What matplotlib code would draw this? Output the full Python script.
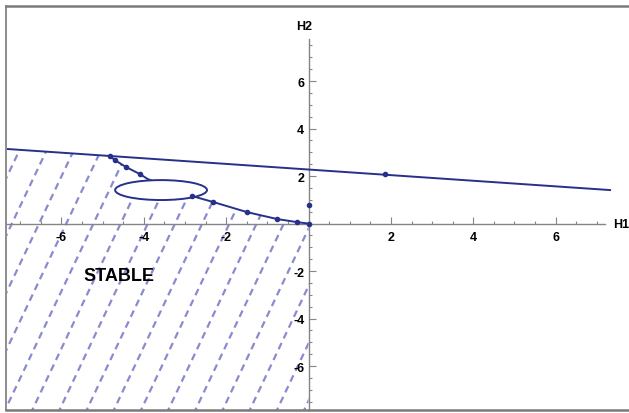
import numpy as np
import matplotlib
matplotlib.use("Agg")
import matplotlib.pyplot as plt
from matplotlib.lines import Line2D
from matplotlib.patches import Ellipse, Polygon

plt.rcParams['font.family'] = ['Liberation Sans', 'DejaVu Sans']
plt.rcParams['lines.scale_dashes'] = False
plt.rcParams['axes.unicode_minus'] = False

# straight boundary line (end points)
line_x = [-7.32, 7.32]
line_y = [3.14, 1.41]

# curved boundary of the stable region
curve_x = [-4.82, -4.70, -4.43, -4.09, -3.90, -2.83, -2.32, -1.49, -0.76, -0.28, 0.0]
curve_y = [2.84, 2.67, 2.38, 2.08, 1.87, 1.16, 0.91, 0.48, 0.19, 0.06, 0.0]

# computed points shown as dots
dots_x = [-4.82, -4.70, -4.43, -4.09, -2.83, -2.32, -1.49, -0.76, -0.28, 0.0, 0.0, 1.86]
dots_y = [2.84, 2.67, 2.38, 2.08, 1.16, 0.91, 0.48, 0.19, 0.06, 0.0, 0.78, 2.08]

# ellipse (center, width, height)
ell_center = (-3.58, 1.41)
ell_w, ell_h = 2.23, 0.84

xticks = [-6, -4, -2, 2, 4, 6]
yticks = [-6, -4, -2, 2, 4, 6]

navy = '#27308a'
hatch_col = '#8a8acf'
axis_col = '#858585'

fig = plt.figure(figsize=(6.29, 4.14), dpi=100)
ax = fig.add_axes([7 / 629, 3 / 414, 622 / 629, 404 / 414])
ax.set_xlim(-7.32, 7.78)
ax.set_ylim(-7.85, 9.16)

# stable region polygon used to clip the dashed hatching
slope = (line_y[1] - line_y[0]) / (line_x[1] - line_x[0])
left_y = line_y[0] + slope * (-7.5 - line_x[0])
poly = [(-7.5, left_y)] + list(zip(curve_x, curve_y)) + [(0.0, -8.5), (-7.5, -8.5)]
region = Polygon(poly, closed=True, facecolor='none', edgecolor='none')
ax.add_patch(region)

hs = 3.66   # slope of hatch lines in data units
for x0 in np.arange(-12.3, 0.8, 0.66):
    yy = np.array([-9.0, 4.0])
    xx = x0 + (yy + 9.0) / hs
    ln, = ax.plot(xx, yy, color=hatch_col, lw=1.6, dashes=(5, 3.6), zorder=1)
    ln.set_clip_path(region)

# boundary lines
ax.plot(line_x, line_y, color=navy, lw=1.4, zorder=3)
ax.plot(curve_x, curve_y, color=navy, lw=1.4, zorder=3)
ax.add_patch(Ellipse(ell_center, ell_w, ell_h, facecolor='white',
                     edgecolor=navy, lw=1.4, zorder=4))
ax.plot(dots_x, dots_y, 'o', color=navy, ms=3, zorder=5)

ax.text(-4.6, -2.17, 'STABLE', fontsize=13, fontweight='bold',
        ha='center', va='center', zorder=6)

# Mathematica-like axes through the origin
for s in ['top', 'right']:
    ax.spines[s].set_visible(False)
ax.spines['left'].set_position(('data', 0))
ax.spines['bottom'].set_position(('data', 0))
ax.spines['left'].set_bounds(-7.85, 7.77)
ax.spines['bottom'].set_bounds(-7.32, 7.2)
for s in ['left', 'bottom']:
    ax.spines[s].set_color(axis_col)
    ax.spines[s].set_linewidth(1.0)
    ax.spines[s].set_zorder(2)

ax.set_xticks(xticks)
ax.set_yticks(yticks)
ax.set_xticks(np.arange(-7.0, 7.01, 0.5), minor=True)
ax.set_yticks(np.arange(-7.5, 7.51, 0.5), minor=True)
ax.tick_params(which='both', direction='in', color=axis_col, width=0.8)
ax.tick_params(which='major', length=5)
ax.tick_params(which='minor', length=2.5)
ax.tick_params(axis='x', pad=5)
ax.tick_params(axis='y', pad=3)
for lab in ax.get_xticklabels() + ax.get_yticklabels():
    lab.set_fontweight('bold')
    lab.set_fontsize(9)

ax.text(7.39, 0, 'H1', fontsize=9, fontweight='bold', ha='left', va='center', clip_on=False)
ax.text(-0.1, 8.3, 'H2', fontsize=9, fontweight='bold', ha='center', va='center')

# picture border (left, top, bottom)
bc = '#7a7a7a'
fig.add_artist(Line2D([6 / 629, 6 / 629], [3 / 414, 407 / 414], color=bc, lw=1.2))
fig.add_artist(Line2D([6 / 629, 1.0], [407 / 414, 407 / 414], color=bc, lw=1.8))
fig.add_artist(Line2D([6 / 629, 1.0], [3 / 414, 3 / 414], color=bc, lw=1.8))

fig.savefig('out.png', dpi=100)
